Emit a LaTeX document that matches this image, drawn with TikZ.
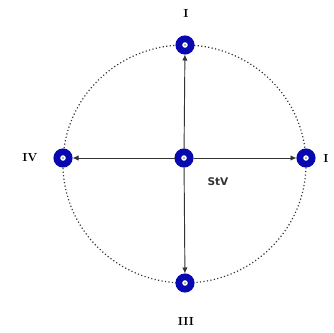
\documentclass[tikz,border=0pt]{standalone}
\usepackage{fontspec}
\setsansfont{DejaVu Sans}
\usetikzlibrary{arrows.meta, positioning}
\definecolor{ringBlue}{HTML}{0808B0}
\definecolor{lineGrey}{HTML}{333333}
\definecolor{dotGrey}{HTML}{9A9A9A}

\begin{document}
\begin{tikzpicture}[
  x=0.03cm, y=-0.03cm,
  station/.style={circle, draw=ringBlue, line width=0.2cm, fill=white, inner sep=0pt,
                  minimum size=0.37cm,
                  path picture={\fill[dotGrey] (path picture bounding box.center) circle (0.9pt);}},
  numeral/.style={font=\bfseries},
  arr/.style={-{Latex[length=1.8mm, width=1.6mm]}, line width=0.8pt, color=lineGrey},
  orbit/.style={dotted, line width=1pt, color=lineGrey}
]
\useasboundingbox (0,0) rectangle (334,332);

\draw[orbit] (184.5,164) ellipse (121.5 and 119);

\node[station] (stv) at (184,158) {};
\node[station] (north) at (185,45) {};
\node[station] (east) at (306,158) {};
\node[station] (south) at (185,283) {};
\node[station] (west) at (63,158) {};

\node[numeral] (labN) at (186,13) {I};
\node[numeral] (labE) at (326,158) {I};
\node[numeral] (labS) at (186,321) {III};
\node[numeral] (labW) at (30,158) {IV};
\node[font=\sffamily\bfseries\small, text=lineGrey] (labC) at (218,182) {StV};

\draw[arr] (stv) -- (north);
\draw[arr] (stv) -- (east);
\draw[arr] (stv) -- (south);
\draw[arr] (stv) -- (west);
\end{tikzpicture}
\end{document}
